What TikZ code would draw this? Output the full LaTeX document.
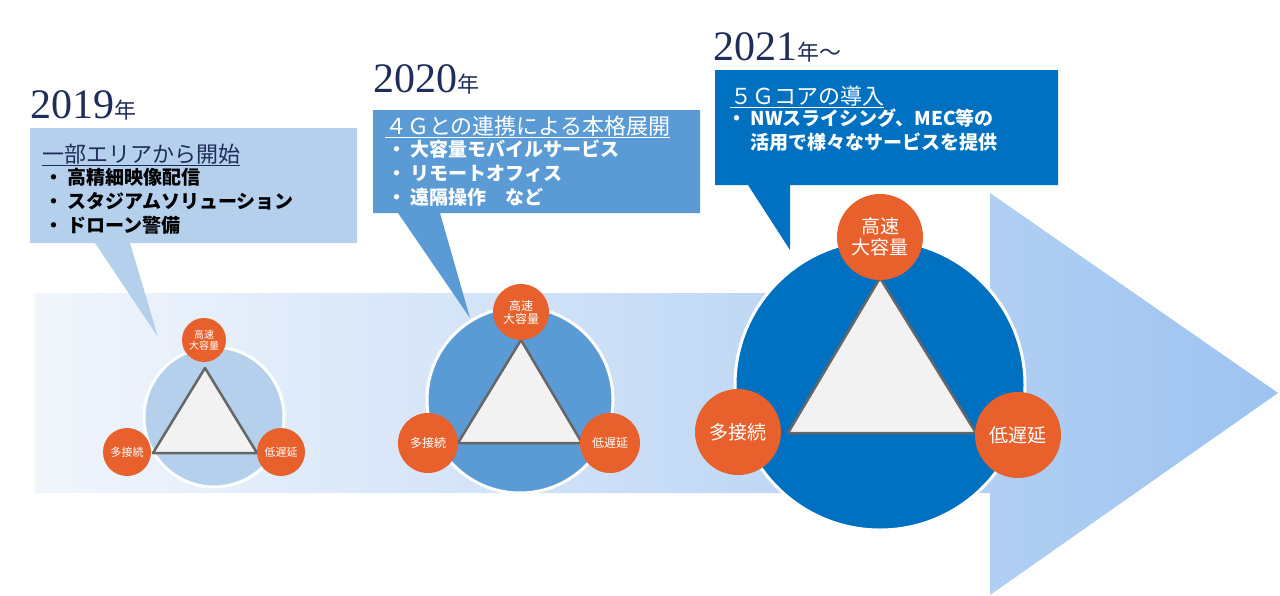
\documentclass[tikz,border=0pt]{standalone}
\usepackage{fontspec}
\setmainfont{Liberation Serif}
\newfontfamily\jp{Noto Sans CJK JP}
\definecolor{navy}{HTML}{1F2D5A}
\definecolor{lblue}{HTML}{B4D0EC}
\definecolor{mblue}{HTML}{5B9BD5}
\definecolor{dblue}{HTML}{0070C0}
\definecolor{orng}{HTML}{E8602C}
\definecolor{arrowl}{HTML}{F2F6FC}
\definecolor{arrowr}{HTML}{9DC3F0}
\tikzset{
  ring/.style={circle,draw=white,line width=3pt,inner sep=0pt},
  feat/.style={circle,fill=orng,text=white,inner sep=0pt,align=center,font=\jp},
  tri/.style={draw=black!60,line width=2.5pt,fill=black!5,line join=round},
  year/.style={anchor=base west,text=navy,inner sep=0pt},
  ttl/.style={anchor=base west,inner sep=0pt,font=\jp\fontsize{22}{22}\selectfont},
  itm/.style={anchor=north west,inner sep=0pt,align=left,font=\jp\bfseries\fontsize{19}{24}\selectfont}
}
\begin{document}
\begin{tikzpicture}[x=1pt,y=-1pt]
\useasboundingbox (0,0) rectangle (1280,595);
% arrow
\shade[left color=arrowl,right color=arrowr] (35,293) -- (990,293) -- (990,193) -- (1278,393)
  -- (990,595) -- (990,493) -- (35,493) -- cycle;
% callouts
\fill[lblue] (30,128) rectangle (357,243) (95,243) -- (158,337) -- (130,243) -- cycle;
\fill[mblue] (373,110) rectangle (700,213) (398,213) -- (470,318) -- (440,213) -- cycle;
\fill[dblue] (715,70) rectangle (1058,185) (748,185) -- (790,250) -- (790,185) -- cycle;
% 2019
\node[ring,fill=lblue,minimum size=140pt] (c1) at (214,417) {};
\draw[tri] (205,368) -- (153,453) -- (257,453) -- cycle;
\node[feat,minimum size=44pt,font=\jp\fontsize{10}{11}\selectfont] (t1) at (204,340) {高速\\大容量};
\node[feat,minimum size=48pt,font=\jp\fontsize{11}{12}\selectfont] (l1) at (127,452) {多接続};
\node[feat,minimum size=48pt,font=\jp\fontsize{11}{12}\selectfont] (r1) at (281,452) {低遅延};
% 2020
\node[ring,fill=mblue,minimum size=186pt] (c2) at (520,400) {};
\draw[tri] (521,340) -- (458,443) -- (582,443) -- cycle;
\node[feat,minimum size=56pt,font=\jp\fontsize{12}{13}\selectfont] (t2) at (521,312) {高速\\大容量};
\node[feat,minimum size=60pt,font=\jp\fontsize{12}{13}\selectfont] (l2) at (428,443) {多接続};
\node[feat,minimum size=60pt,font=\jp\fontsize{12}{13}\selectfont] (r2) at (610,443) {低遅延};
% 2021
\node[ring,fill=dblue,minimum size=290pt] (c3) at (880,385) {};
\draw[tri] (880,278) -- (788,433) -- (976,433) -- cycle;
\node[feat,minimum size=86pt,font=\jp\fontsize{19}{21}\selectfont] (t3) at (880,237) {高速\\大容量};
\node[feat,minimum size=86pt,font=\jp\fontsize{19}{21}\selectfont] (l3) at (738,432) {多接続};
\node[feat,minimum size=86pt,font=\jp\fontsize{19}{21}\selectfont] (r3) at (1018,435) {低遅延};
% years
\node[year] (y1) at (30,118) {\fontsize{42}{42}\selectfont 2019\jp\fontsize{22}{22}\selectfont 年};
\node[year] (y2) at (373,92) {\fontsize{42}{42}\selectfont 2020\jp\fontsize{22}{22}\selectfont 年};
\node[year] (y3) at (713,60) {\fontsize{42}{42}\selectfont 2021\jp\fontsize{22}{22}\selectfont 年〜};
% texts
\node[ttl,text=navy] (h1) at (42,162) {\underline{一部エリアから開始}};
\node[itm] (b1) at (44,168) {・ 高精細映像配信\\・ スタジアムソリューション\\・ ドローン警備};
\node[ttl,text=white] (h2) at (385,134) {\underline{４Ｇとの連携による本格展開}};
\node[itm,text=white] (b2) at (387,140) {・ 大容量モバイルサービス\\・ リモートオフィス\\・ 遠隔操作　など};
\node[ttl,text=white] (h3) at (730,104) {\underline{５Ｇコアの導入}};
\node[itm,text=white] (b3) at (727,109) {・ NWスライシング、MEC等の\\\phantom{・ }活用で様々なサービスを提供};
\end{tikzpicture}
\end{document}
